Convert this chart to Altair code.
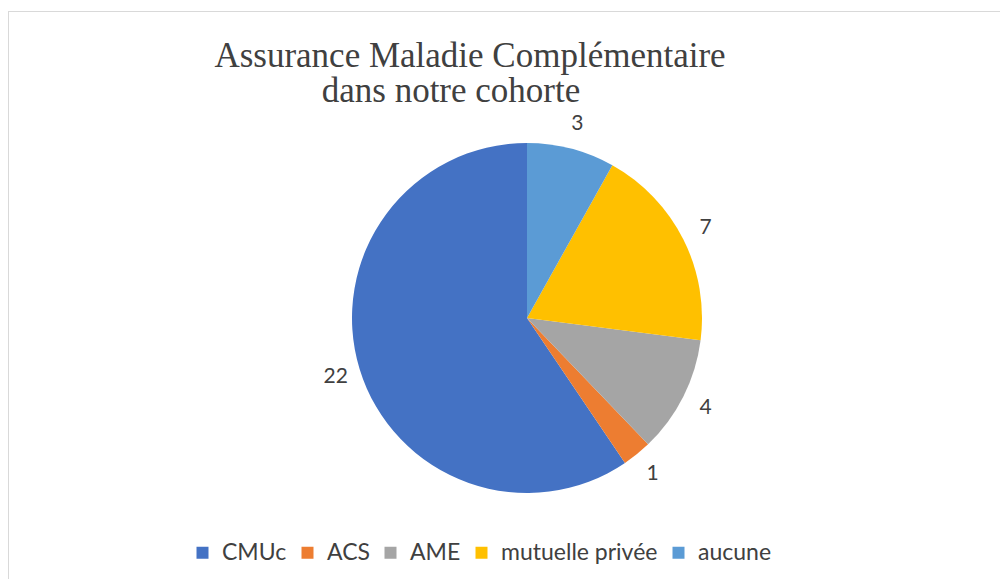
import altair as alt
import pandas as pd

categories = ["CMUc", "ACS", "AME", "mutuelle privée", "aucune"]
values = [22, 1, 4, 7, 3]
colors = ["#4472C4", "#ED7D31", "#A5A5A5", "#FFC000", "#5B9BD5"]
# clockwise drawing order from 12 o'clock
draw_order = [4, 3, 2, 1, 0]
title_lines = ["Assurance Maladie Complémentaire", "dans notre cohorte"]

df = pd.DataFrame({"cat": categories, "val": values, "ord": draw_order})
one = pd.DataFrame({"k": [0]})

W, H = 992, 571
CX, CY = 519, 310

color = alt.Color(
    "cat:N",
    scale=alt.Scale(domain=categories, range=colors),
    sort=categories,
    legend=alt.Legend(
        title=None,
        orient="none",
        direction="horizontal",
        legendX=183,
        legendY=533,
        symbolType="square",
        symbolSize=144,
        symbolStrokeWidth=0,
        labelFontSize=23,
        labelFont="Lato",
        labelColor="#404040",
        labelLimit=400,
        columnPadding=9,
        symbolOffset=0,
        labelOffset=8,
    ),
)

base = alt.Chart(df).encode(
    theta=alt.Theta("val:Q", stack=True),
    order=alt.Order("ord:Q", sort="ascending"),
)

pie = base.mark_arc(radius=175).encode(
    color=color,
    x=alt.value(CX),
    y=alt.value(CY),
)

labels = base.mark_text(
    radius=200, fontSize=21, font="Lato", color="#404040"
).encode(
    text="val:Q",
    x=alt.value(CX),
    y=alt.value(CY),
)

title1 = alt.Chart(one).mark_text(
    font="Liberation Serif", fontSize=35, color="#404040", align="center", baseline="alphabetic"
).encode(x=alt.value(462), y=alt.value(59), text=alt.value(title_lines[0]))

title2 = alt.Chart(one).mark_text(
    font="Liberation Serif", fontSize=35, color="#404040", align="center", baseline="alphabetic"
).encode(x=alt.value(443), y=alt.value(94), text=alt.value(title_lines[1]))

frame_top = alt.Chart(one).mark_rule(color="#d9d9d9", strokeWidth=1).encode(
    x=alt.value(0), x2=alt.value(W), y=alt.value(3.5)
)
frame_left = alt.Chart(one).mark_rule(color="#d9d9d9", strokeWidth=1).encode(
    x=alt.value(0.5), y=alt.value(3.5), y2=alt.value(H)
)

chart = alt.layer(frame_top, frame_left, pie, labels, title1, title2).properties(
    width=W,
    height=H,
    autosize=alt.AutoSizeParams(type="none"),
    padding=0,
).configure_view(stroke=None)

chart.save("out.html", embed_options={"renderer": "svg", "actions": False})
